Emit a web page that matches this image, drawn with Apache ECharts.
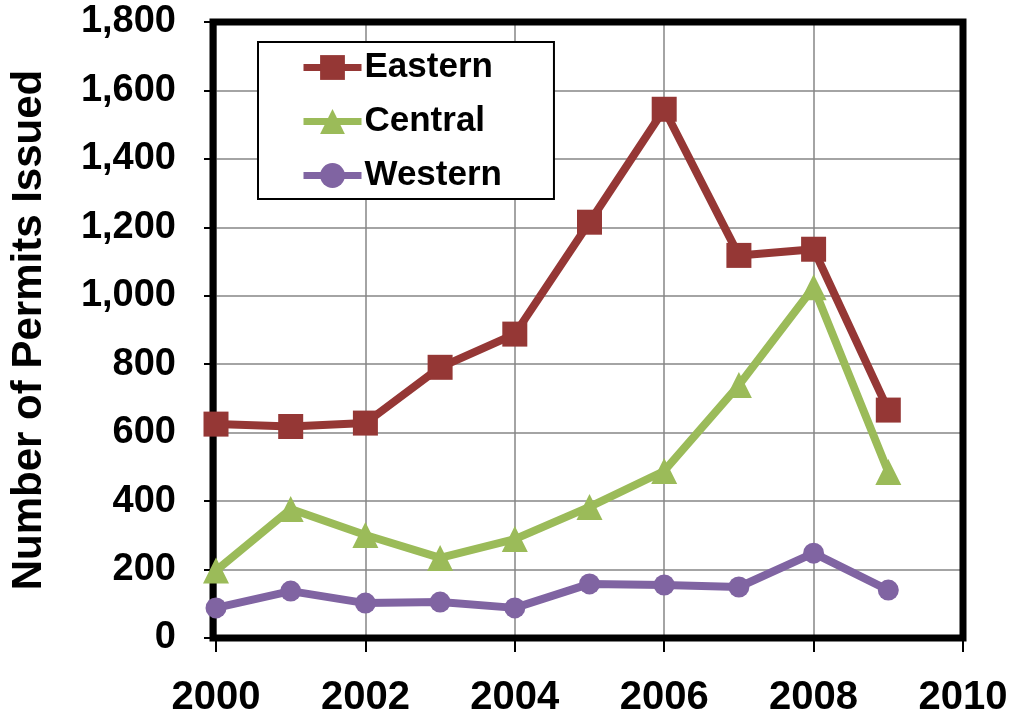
<!DOCTYPE html>
<html>
<head>
<meta charset="utf-8">
<script src="https://cdn.jsdelivr.net/npm/echarts@6/dist/echarts.min.js"></script>
<style>
html,body{margin:0;padding:0;background:#fff;}
#chart{width:1011px;height:727px;}
</style>
</head>
<body>
<div id="chart"></div>
<script>
const years = [2000, 2001, 2002, 2003, 2004, 2005, 2006, 2007, 2008, 2009];
const eastern = [625, 618, 628, 791, 888, 1215, 1545, 1118, 1136, 666];
const central = [197, 377, 301, 234, 289, 383, 488, 739, 1025, 485];
const western = [88, 137, 102, 105, 88, 158, 155, 149, 248, 140];
const seriesNames = ['Eastern', 'Central', 'Western'];
const seriesColors = ['#953735', '#9BBB59', '#8064A2'];
const xTicks = [2000, 2010, 2];
const yTicks = [0, 1800, 200];

const font = '"Liberation Sans", "Open Sans", sans-serif';
const narrow = '"Liberation Sans Narrow", "Liberation Sans", sans-serif';

function pairs(vals) { return years.map((y, i) => [y, vals[i]]); }

const chart = echarts.init(document.getElementById('chart'), null, {renderer: 'canvas'});
const symbols = ['rect', 'triangle', 'circle'];
const symbolSizes = [25, 26, 21];
const data = [eastern, central, western];

const G = {left: 213, top: 22, right: 48, bottom: 89};

chart.setOption({
  animation: false,
  backgroundColor: '#ffffff',
  grid: {
    left: G.left, top: G.top, right: G.right, bottom: G.bottom,
    show: false
  },
  graphic: [{
    type: 'rect', z: 1, silent: true,
    shape: {x: G.left, y: G.top, width: 1011 - G.left - G.right, height: 727 - G.top - G.bottom},
    style: {fill: 'none', stroke: '#000', lineWidth: 7}
  }],
  legend: {
    left: 258, top: 42,
    orient: 'vertical',
    data: seriesNames,
    itemWidth: 58, itemHeight: 31, itemGap: 19,
    padding: [8, 52, 6, 42],
    borderColor: '#000', borderWidth: 2, backgroundColor: '#fff',
    lineStyle: {width: 7},
    textStyle: {fontFamily: font, fontWeight: 'bold', fontSize: 35, color: '#000', padding: [0, 0, 0, -2]}
  },
  xAxis: {
    type: 'value', min: xTicks[0], max: xTicks[1], interval: xTicks[2],
    axisLine: {show: false},
    axisTick: {show: true, length: 14, lineStyle: {color: '#000', width: 2}},
    splitLine: {show: true, lineStyle: {color: '#868686', width: 1.5}},
    axisLabel: {
      margin: 40, color: '#000', fontFamily: narrow, fontWeight: 'bold', fontSize: 40,
      formatter: v => String(v)
    }
  },
  yAxis: {
    type: 'value', min: yTicks[0], max: yTicks[1], interval: yTicks[2],
    name: 'Number of Permits Issued', nameLocation: 'middle', nameGap: 166,
    nameTextStyle: {fontFamily: narrow, fontWeight: 'bold', fontSize: 42, color: '#000'},
    axisLine: {show: false},
    axisTick: {show: true, length: 12, lineStyle: {color: '#000', width: 2}},
    splitLine: {show: true, lineStyle: {color: '#868686', width: 1.5}},
    axisLabel: {
      margin: 40, color: '#000', fontFamily: font, fontWeight: 'bold', fontSize: 38,
      formatter: v => v.toLocaleString('en-US')
    }
  },
  series: seriesNames.map((name, i) => ({
    name: name, type: 'line',
    data: pairs(data[i]),
    symbol: symbols[i], symbolSize: symbolSizes[i],
    showAllSymbol: true,
    lineStyle: {color: seriesColors[i], width: 8},
    itemStyle: {color: seriesColors[i], borderWidth: 0},
    emphasis: {disabled: true}
  }))
});
</script>
</body>
</html>
